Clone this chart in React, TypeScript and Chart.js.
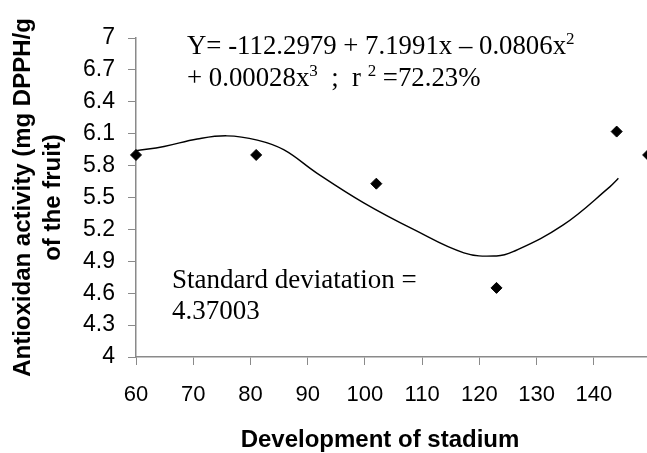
import React, { useEffect, useRef } from 'react';
import { Chart, registerables } from 'chart.js';

Chart.register(...registerables);

// Observed antioxidant activity at each development stage (days)
const stageDays = [60, 81, 102, 123, 144, 149.5];
const activity = [5.9, 5.9, 5.63, 4.65, 6.12, 5.9];

// Fitted cubic trend line
const fitDays = [60, 64.9, 70.7, 75.9, 81.2, 85.8, 91.6, 99.8, 108.5, 117.3, 123, 125.9, 134.6, 142.8, 144.3];
const fitActivity = [5.94, 5.98, 6.05, 6.08, 6.04, 5.95, 5.73, 5.45, 5.2, 4.98, 4.95, 4.99, 5.24, 5.6, 5.68];

const xTicks = [60, 70, 80, 90, 100, 110, 120, 130, 140];
const yTicks = [4, 4.3, 4.6, 4.9, 5.2, 5.5, 5.8, 6.1, 6.4, 6.7, 7];
const yTickLabels = ['4', '4.3', '4.6', '4.9', '5.2', '5.5', '5.8', '6.1', '6.4', '6.7', '7'];

const xTitle = 'Development of stadium';
const yTitle = ['Antioxidan activity (mg DPPH/g', 'of the fruit)'];

type Seg = { t: string; sup?: boolean };
const equationLine1: Seg[] = [{ t: 'Y= -112.2979 + 7.1991x \u2013 0.0806x' }, { t: '2', sup: true }];
const equationLine2: Seg[] = [
  { t: '+ 0.00028x' },
  { t: '3', sup: true },
  { t: '  ;  r ' },
  { t: '2', sup: true },
  { t: ' =72.23%' },
];
const sdLines = ['Standard deviatation =', '4.37003'];

const AXIS_GREY = '#8a8a8a';
const SERIF = '"Liberation Serif", "Times New Roman", serif';

function drawSegs(ctx: CanvasRenderingContext2D, segs: Seg[], x: number, y: number, size: number) {
  let cx = x;
  for (const s of segs) {
    if (s.sup) {
      ctx.font = `${Math.round(size * 0.62)}px ${SERIF}`;
      ctx.fillText(s.t, cx, y - size * 0.36);
    } else {
      ctx.font = `${size}px ${SERIF}`;
      ctx.fillText(s.t, cx, y);
    }
    cx += ctx.measureText(s.t).width;
  }
}

const textPlugin = {
  id: 'annotText',
  afterDraw(chart: any) {
    const ctx = chart.ctx as CanvasRenderingContext2D;
    const area = chart.chartArea;
    ctx.save();
    ctx.fillStyle = '#000';
    ctx.textAlign = 'left';
    ctx.textBaseline = 'alphabetic';
    const eqX = area.left + 51;
    drawSegs(ctx, equationLine1, eqX, area.top + 16, 26.8);
    drawSegs(ctx, equationLine2, eqX, area.top + 48, 26.8);
    ctx.font = `27px ${SERIF}`;
    ctx.fillText(sdLines[0], area.left + 36, area.top + 250);
    ctx.fillText(sdLines[1], area.left + 36, area.top + 281);
    ctx.font = 'bold 24px "Liberation Sans", Arial, sans-serif';
    ctx.textAlign = 'center';
    ctx.fillText(xTitle, 380, area.bottom + 90);
    ctx.restore();
  },
};

export default function App() {
  const ref = useRef<HTMLCanvasElement | null>(null);

  useEffect(() => {
    const canvas = ref.current;
    if (!canvas) return;
    const chart = new Chart(canvas, {
      type: 'scatter',
      data: {
        datasets: [
          {
            type: 'line',
            label: 'Trend',
            data: fitDays.map((d, i) => ({ x: d, y: fitActivity[i] })),
            borderColor: '#000',
            borderWidth: 1.4,
            pointRadius: 0,
            tension: 0.4,
            fill: false,
          } as any,
          {
            label: 'Antioxidant activity',
            data: stageDays.map((d, i) => ({ x: d, y: activity[i] })),
            backgroundColor: '#000',
            borderColor: '#000',
            borderWidth: 1,
            pointStyle: 'rectRot',
            pointRadius: 5.5,
            clip: false,
          } as any,
        ],
      },
      options: {
        animation: false,
        responsive: false,
        maintainAspectRatio: false,
        layout: { autoPadding: false, padding: { top: 38, right: 0, bottom: 0, left: 0 } },
        plugins: { legend: { display: false }, tooltip: { enabled: false } },
        scales: {
          x: {
            type: 'linear',
            min: 60,
            max: 150,
            afterBuildTicks: (s: any) => {
              s.ticks = xTicks.map((v) => ({ value: v }));
            },
            afterFit: (s: any) => {
              s.height = 96;
            },
            grid: { drawOnChartArea: false, drawTicks: true, tickLength: 8, color: AXIS_GREY, tickColor: AXIS_GREY },
            border: { display: true, color: AXIS_GREY, width: 1.5 },
            ticks: {
              color: '#000',
              padding: 17,
              maxRotation: 0,
              font: { family: '"Liberation Sans", Arial, sans-serif', size: 22 },
              callback: (v: any) => String(v),
            },
            title: { display: false },
          },
          y: {
            type: 'linear',
            min: 4,
            max: 7,
            afterBuildTicks: (s: any) => {
              s.ticks = yTicks.map((v) => ({ value: v }));
            },
            afterFit: (s: any) => {
              s.width = 136;
            },
            grid: { drawOnChartArea: false, drawTicks: true, tickLength: 8, color: AXIS_GREY, tickColor: AXIS_GREY },
            border: { display: true, color: AXIS_GREY, width: 1.5 },
            ticks: {
              color: '#000',
              padding: 13,
              font: { family: '"Liberation Sans", Arial, sans-serif', size: 23 },
              callback: (_v: any, i: number) => yTickLabels[i],
            },
            title: {
              display: true,
              text: yTitle,
              color: '#000',
              padding: { top: 8, bottom: 0 },
              font: { family: '"Liberation Sans", Arial, sans-serif', size: 24, weight: 'bold', lineHeight: 1.25 },
            },
          },
        },
      },
      plugins: [textPlugin],
    });
    return () => chart.destroy();
  }, []);

  return (
    <div style={{ position: 'absolute', left: 0, top: 0, width: 647, height: 453, overflow: 'hidden', background: '#fff' }}>
      <canvas ref={ref} width={651} height={453} style={{ display: 'block' }} />
    </div>
  );
}
